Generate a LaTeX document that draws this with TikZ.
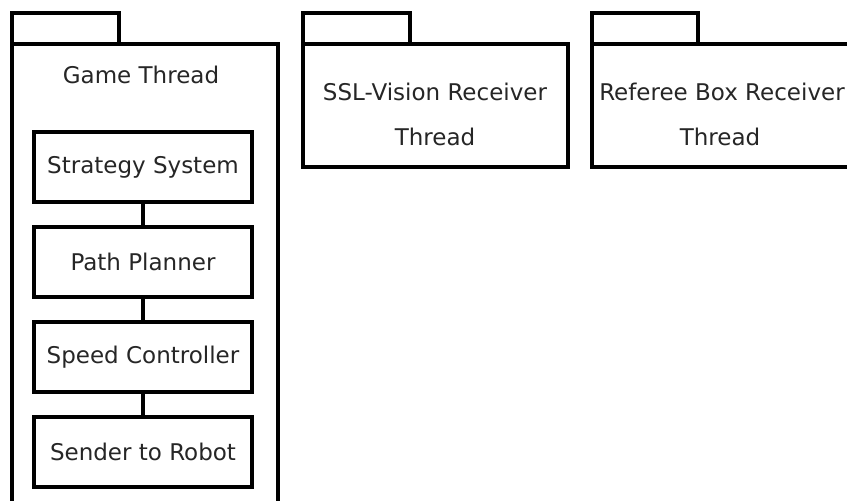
\documentclass[tikz,border=0pt]{standalone}
\usepackage{fontspec}
\setmainfont{DejaVu Sans}
\usetikzlibrary{positioning}
\tikzstyle{l4}=[line width=4]
\tikzstyle{pkg}=[draw=black, l4]
\tikzstyle{comp}=[rectangle, draw=black, text=black!85, font=\fontsize{23}{28}\selectfont, minimum width=218pt, minimum height=70pt, l4, inner sep=0pt]
\tikzstyle{lbl}=[text=black!85, font=\fontsize{23}{28}\selectfont, anchor=base, inner sep=0pt]
\definecolor{bgwhite}{HTML}{FFFFFF}

\begin{document}
\begin{tikzpicture}[x=1pt, y=-1pt]
    \useasboundingbox (0,0) rectangle (847,501);
    \fill[bgwhite] (0,0) rectangle (847,501);
    \clip (0,0) rectangle (847,501);

    % game thread
    \begin{scope}[shift={(12, 13)}]
        \draw[pkg] (0,0) rectangle (107,31);
        \draw[pkg] (0,31) rectangle (266,530);
        \node[lbl] at (129,70) (game) {Game Thread};

        \node[comp] at (131,154) (strat) {Strategy System};
        \node[comp] at (131,249) (path) {Path Planner};
        \node[comp] at (131,344) (speed) {Speed Controller};
        \node[comp] at (131,439) (send) {Sender to Robot};
        \draw[l4] (strat) -- (path) -- (speed) -- (send);
    \end{scope}

    % ssl-vision
    \begin{scope}[shift={(303, 13)}]
        \draw[pkg] (0,0) rectangle (107,31);
        \draw[pkg] (0,31) rectangle (265,154);
        \node[lbl] at (132,87) (vis1) {SSL-Vision Receiver};
        \node[lbl] at (132,132.7) (vis2) {Thread};
    \end{scope}

    % referee box
    \begin{scope}[shift={(592, 13)}]
        \draw[pkg] (0,0) rectangle (106,31);
        \draw[pkg] (0,31) rectangle (262,154);
        \node[lbl] at (130,87) (ref1) {Referee Box Receiver};
        \node[lbl] at (128,132.7) (ref2) {Thread};
    \end{scope}
\end{tikzpicture}
\end{document}
